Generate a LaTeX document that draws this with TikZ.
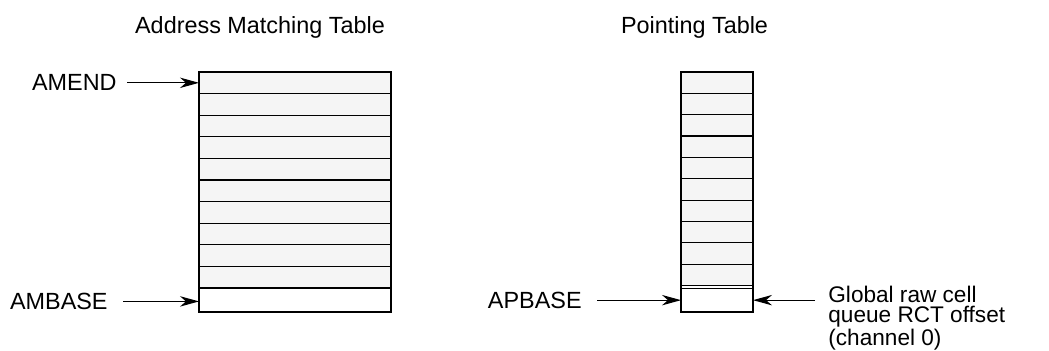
\documentclass[tikz,border=0pt]{standalone}
\usepackage{fontspec}
\setmainfont{Liberation Sans}
\usetikzlibrary{arrows.meta}
\definecolor{cellgray}{RGB}{245,245,245}
\tikzset{
  cell/.style={draw, line width=0.6pt, fill=cellgray, minimum height=10.8pt,
    inner sep=0pt, outer sep=0pt, anchor=north west},
  ptr/.style={-{Stealth[length=9.5pt,width=5.2pt,inset=3pt]}, line width=0.6pt},
  lbl/.style={font=\fontsize{11.7}{10}\selectfont, inner sep=0pt}
}
\begin{document}
\begin{tikzpicture}[x=0.5pt, y=-0.5pt]
  \useasboundingbox (0,0) rectangle (1049,350);

  % Titles
  \node[lbl, anchor=base] (amtitle) at (260,33) {Address Matching Table};
  \node[lbl, anchor=base] (pttitle) at (694.5,33) {Pointing Table};

  % Address matching table
  \foreach \i in {0,...,9} {
    \node[cell, minimum width=96pt] (am\i) at (199, {72+21.6*\i}) {};
  }
  \node[cell, fill=white, minimum width=96pt, minimum height=12pt] (ambase) at (199,288) {};

  % Pointing table
  \foreach \i in {0,...,9} {
    \node[cell, minimum width=36pt] (pt\i) at (681, {72+21.35*\i}) {};
  }
  \node[cell, fill=white, minimum width=36pt, minimum height=13.25pt] (ptbase) at (681,285.5) {};
  \draw[line width=0.6pt] ([yshift=-1.5pt]ptbase.north west) -- ([yshift=-1.5pt]ptbase.north east);

  % Pointers into the tables
  \node[lbl, anchor=east] (amend) at ([xshift=-41pt]am0.west) {AMEND};
  \draw[ptr, shorten <=5pt] (amend) -- (am0.west);

  \node[lbl, anchor=east] (amb) at ([xshift=-45.5pt, yshift=-0.7pt]ambase.west) {AMBASE};
  \draw[ptr, shorten <=7.5pt] (amb.east) -- (amb.east -| ambase.west);

  \node[lbl, anchor=east] (apb) at ([xshift=-49.5pt, yshift=-0.7pt]ptbase.west) {APBASE};
  \draw[ptr, shorten <=7.5pt] (apb.east) -- (apb.east -| ptbase.west);

  % Offset note
  \node[lbl, font=\fontsize{11.3}{9.8}\selectfont, anchor=north west, align=left] (rct) at (828,286)
    {Global raw cell\\queue RCT offset\\(channel 0)};
  \coordinate (rctin) at ([xshift=31pt]apb.east -| ptbase.east);
  \draw[ptr] (rctin) -- (rctin -| ptbase.east);
\end{tikzpicture}
\end{document}
